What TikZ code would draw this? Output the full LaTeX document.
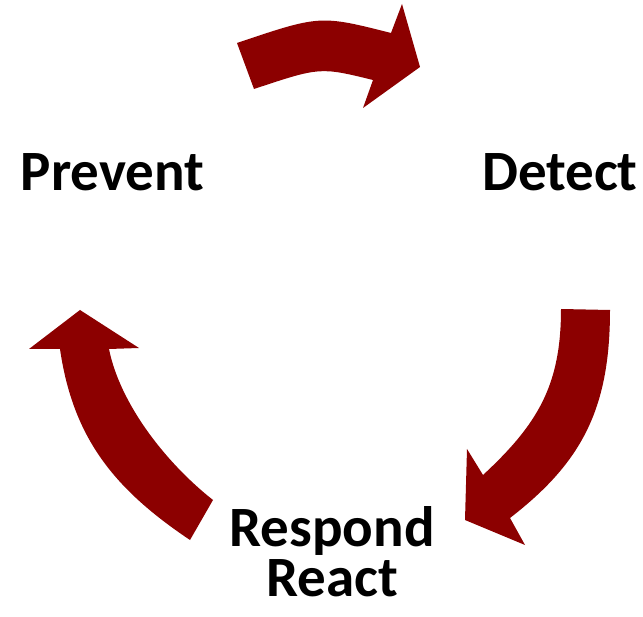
\documentclass[tikz,border=0pt]{standalone}
\usepackage{fontspec}
\setmainfont{Carlito}
\definecolor{arrowred}{RGB}{140,0,0}
\begin{document}
\begin{tikzpicture}[x=1pt,y=-1pt,
  blockarrow/.style={fill=arrowred,draw=none},
  label/.style={font=\fontsize{57}{50}\selectfont\bfseries,anchor=base,inner sep=0pt,align=center}]
\useasboundingbox (0,0) rectangle (643,617);
% top arrow
\path[blockarrow] (237,43) .. controls (320,15) .. (391,33) -- (402,4) -- (420,67) -- (363,108) -- (373,80) .. controls (320,67) .. (254,89) -- cycle;
% right arrow
\path[blockarrow] (561,309) -- (610,310) .. controls (610,410) and (581,463) .. (510,518) -- (525,545) -- (465,520) -- (467,449) -- (483,475) .. controls (538,424) and (561,385) .. (561,309) -- cycle;
% left arrow
\path[blockarrow] (213,500) -- (190,540) .. controls (114,489) and (73,438) .. (60,349) -- (29,349) -- (80,310) -- (139,348) -- (109,349) .. controls (120,404) and (166,463) .. (213,500) -- cycle;
% labels
\node[label] (prevent) at (112.5,191) {Prevent};
\node[label] (detect) at (560,191) {Detect};
\node[label] (respond) at (332,596) {Respond\\React};
\end{tikzpicture}
\end{document}
